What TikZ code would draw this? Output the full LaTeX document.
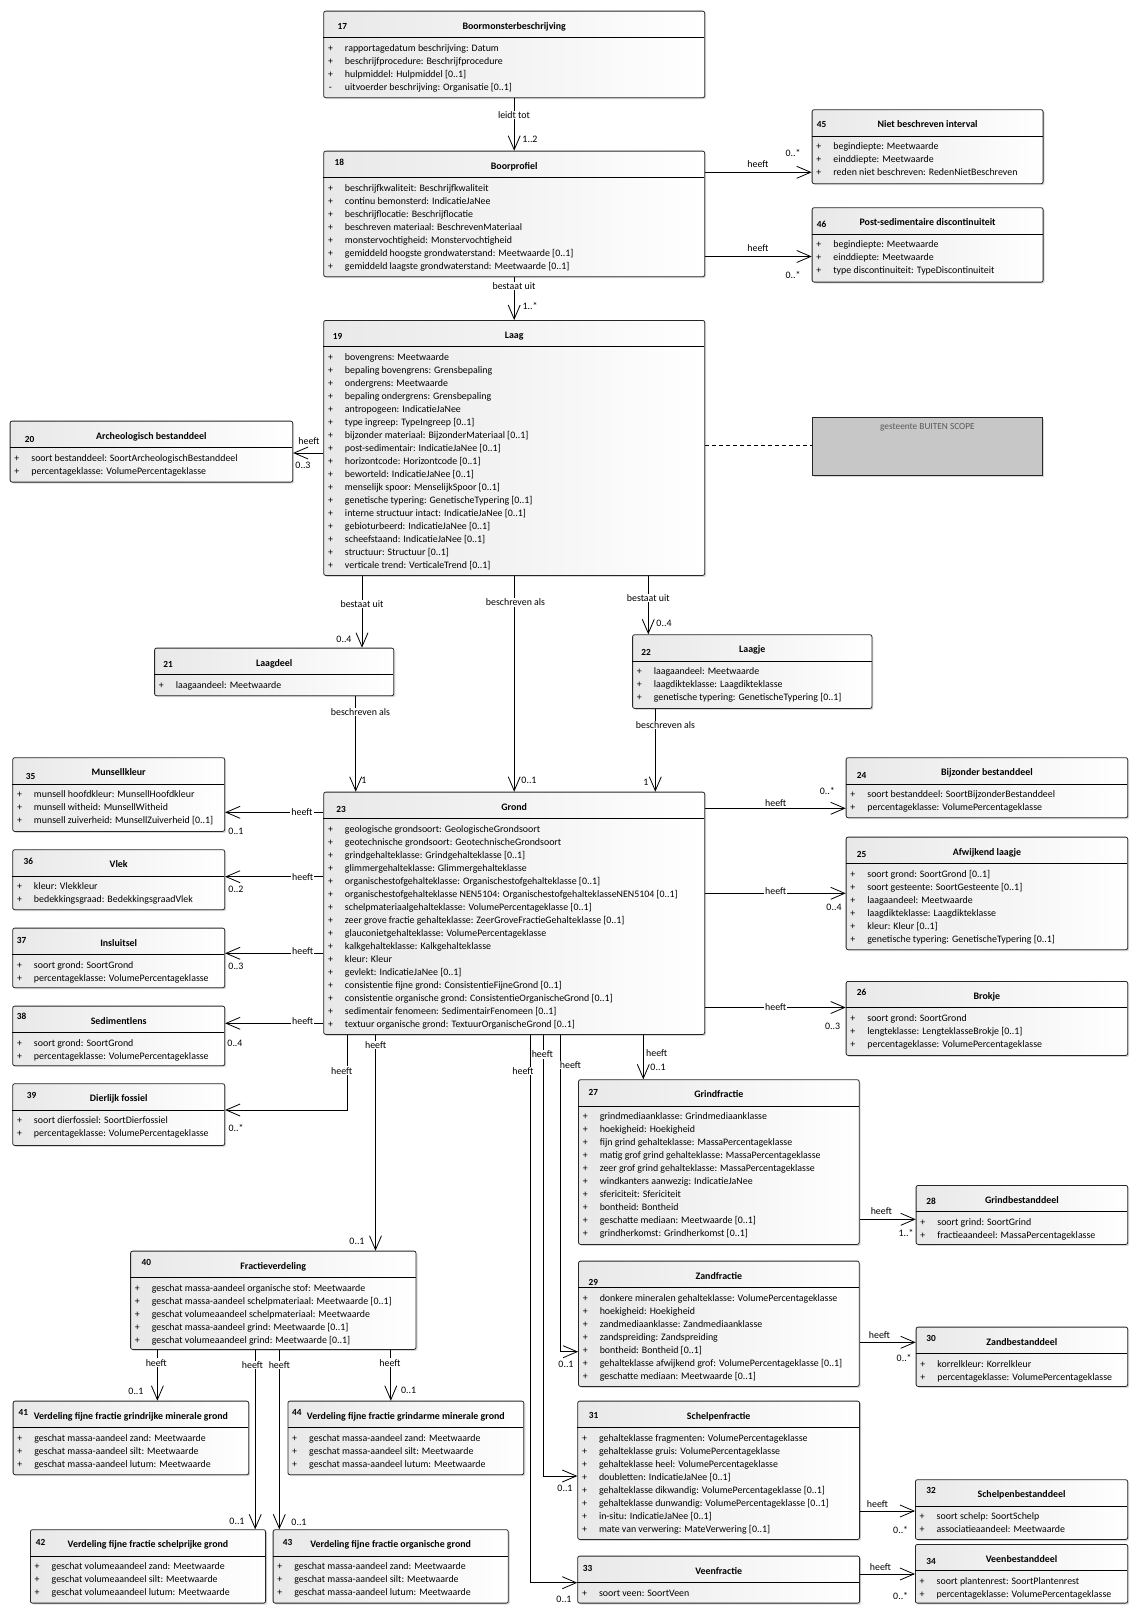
\documentclass[tikz,border=0pt]{standalone}
\usepackage{fontspec}
\setmainfont{Carlito}
\usepackage{tikz}
\usetikzlibrary{positioning,arrows.meta,calc,shadows}

% one attribute row: visibility sign, then the text
\newcommand{\vis}[1]{\rule{0pt}{8.5pt}\makebox[14pt]{#1}\hspace{7.5pt}}
% class box: name, left, top, width, height, number offset, number, title, attributes
\newcommand{\klasse}[9]{%
  \node[klasse, minimum width=#4pt, minimum height=#5pt, anchor=north west] (#1) at (#2,#3) {};
  \draw[line width=0.8pt] (#1.north west) ++(0,26.8) -- ++(#4,0);
  \node[nummer] (#1-nr) at ($(#1.north west)+(#6)$) {#7};
  \node[titel] (#1-titel) at ($(#1.north)+(0,18.5)$) {#8};
  \node[attrs] (#1-attr) at ($(#1.north west)+(0,31.8)$) {#9};
}

\begin{document}
\begin{tikzpicture}[
  x=1pt, y=-1pt,
  font=\fontsize{9.9}{13}\selectfont,
  klasse/.style={rectangle, draw=black!85, line width=0.8pt, rounded corners=2pt, left color=black!9, right color=white,
    drop shadow={shadow xshift=1.5pt, shadow yshift=-1.5pt, opacity=0.3}, inner sep=0pt},
  buiten/.style={rectangle, draw=black!85, line width=0.8pt, fill=black!22,
    drop shadow={shadow xshift=1.5pt, shadow yshift=-1.5pt, opacity=0.3}, inner sep=0pt},
  nummer/.style={font=\fontsize{9.3}{11}\selectfont\bfseries, inner sep=0pt},
  titel/.style={font=\fontsize{9.9}{12}\selectfont\bfseries, inner sep=0pt, anchor=base},
  attrs/.style={anchor=north west, align=left, inner sep=0pt},
  assoc/.style={-{Straight Barb[length=14pt,width=12pt]}, line width=0.8pt},
  lbl/.style={fill=white, inner sep=1pt},
  mult/.style={inner sep=0pt}
]
\fill[white] (0,0) rectangle (1138,1614);
\useasboundingbox (0,0) rectangle (1138,1614);

% boring description and profile
\klasse{boormonster}{323.3}{10.7}{381}{86.6}{19,16}{17}{Boormonsterbeschrijving}{%
\vis{+}rapportagedatum beschrijving: Datum\\
\vis{+}beschrijfprocedure: Beschrijfprocedure\\
\vis{+}hulpmiddel: Hulpmiddel [0..1]\\
\vis{-}uitvoerder beschrijving: Organisatie [0..1]}
\klasse{boorprofiel}{323.3}{150.7}{381}{125.6}{16,11.6}{18}{Boorprofiel}{%
\vis{+}beschrijfkwaliteit: Beschrijfkwaliteit\\
\vis{+}continu bemonsterd: IndicatieJaNee\\
\vis{+}beschrijflocatie: Beschrijflocatie\\
\vis{+}beschreven materiaal: BeschrevenMateriaal\\
\vis{+}monstervochtigheid: Monstervochtigheid\\
\vis{+}gemiddeld hoogste grondwaterstand: Meetwaarde [0..1]\\
\vis{+}gemiddeld laagste grondwaterstand: Meetwaarde [0..1]}
\klasse{interval}{811.7}{109.3}{231}{74}{10,15.5}{45}{Niet beschreven interval}{%
\vis{+}begindiepte: Meetwaarde\\
\vis{+}einddiepte: Meetwaarde\\
\vis{+}reden niet beschreven: RedenNietBeschreven}
\klasse{discontinuiteit}{811.7}{207.3}{231}{74.4}{10,17}{46}{Post-sedimentaire discontinuiteit}{%
\vis{+}begindiepte: Meetwaarde\\
\vis{+}einddiepte: Meetwaarde\\
\vis{+}type discontinuiteit: TypeDiscontinuiteit}

% layer
\klasse{laag}{323.3}{320}{381}{255}{14.4,16.7}{19}{Laag}{%
\vis{+}bovengrens: Meetwaarde\\
\vis{+}bepaling bovengrens: Grensbepaling\\
\vis{+}ondergrens: Meetwaarde\\
\vis{+}bepaling ondergrens: Grensbepaling\\
\vis{+}antropogeen: IndicatieJaNee\\
\vis{+}type ingreep: TypeIngreep [0..1]\\
\vis{+}bijzonder materiaal: BijzonderMateriaal [0..1]\\
\vis{+}post-sedimentair: IndicatieJaNee [0..1]\\
\vis{+}horizontcode: Horizontcode [0..1]\\
\vis{+}beworteld: IndicatieJaNee [0..1]\\
\vis{+}menselijk spoor: MenselijkSpoor [0..1]\\
\vis{+}genetische typering: GenetischeTypering [0..1]\\
\vis{+}interne structuur intact: IndicatieJaNee [0..1]\\
\vis{+}gebioturbeerd: IndicatieJaNee [0..1]\\
\vis{+}scheefstaand: IndicatieJaNee [0..1]\\
\vis{+}structuur: Structuur [0..1]\\
\vis{+}verticale trend: VerticaleTrend [0..1]}
\klasse{archeo}{9.7}{420.7}{282.6}{61}{20,18.3}{20}{Archeologisch bestanddeel}{%
\vis{+}soort bestanddeel: SoortArcheologischBestanddeel\\
\vis{+}percentageklasse: VolumePercentageklasse}
\node[buiten, minimum width=230pt, minimum height=58pt, anchor=north west] (gesteente) at (812,417) {};
\node[font=\fontsize{9.3}{11}\selectfont, text=black!65] (gesteente-tekst) at ($(gesteente.north)+(0,10)$) {gesteente BUITEN SCOPE};
\klasse{laagdeel}{154.2}{647.7}{239.2}{47.6}{14,16.6}{21}{Laagdeel}{%
\vis{+}laagaandeel: Meetwaarde}
\klasse{laagje}{632.2}{634.3}{239.3}{73.7}{13.8,18.4}{22}{Laagje}{%
\vis{+}laagaandeel: Meetwaarde\\
\vis{+}laagdikteklasse: Laagdikteklasse\\
\vis{+}genetische typering: GenetischeTypering [0..1]}

% soil
\klasse{grond}{323.3}{791.7}{381}{242.3}{17.7,17.3}{23}{Grond}{%
\vis{+}geologische grondsoort: GeologischeGrondsoort\\
\vis{+}geotechnische grondsoort: GeotechnischeGrondsoort\\
\vis{+}grindgehalteklasse: Grindgehalteklasse [0..1]\\
\vis{+}glimmergehalteklasse: Glimmergehalteklasse\\
\vis{+}organischestofgehalteklasse: Organischestofgehalteklasse [0..1]\\
\vis{+}organischestofgehalteklasse NEN5104: OrganischestofgehalteklasseNEN5104 [0..1]\\
\vis{+}schelpmateriaalgehalteklasse: VolumePercentageklasse [0..1]\\
\vis{+}zeer grove fractie gehalteklasse: ZeerGroveFractieGehalteklasse [0..1]\\
\vis{+}glauconietgehalteklasse: VolumePercentageklasse\\
\vis{+}kalkgehalteklasse: Kalkgehalteklasse\\
\vis{+}kleur: Kleur\\
\vis{+}gevlekt: IndicatieJaNee [0..1]\\
\vis{+}consistentie fijne grond: ConsistentieFijneGrond [0..1]\\
\vis{+}consistentie organische grond: ConsistentieOrganischeGrond [0..1]\\
\vis{+}sedimentair fenomeen: SedimentairFenomeen [0..1]\\
\vis{+}textuur organische grond: TextuurOrganischeGrond [0..1]}
\klasse{bijzonder}{845.7}{757.3}{281.6}{60}{16,17.7}{24}{Bijzonder bestanddeel}{%
\vis{+}soort bestanddeel: SoortBijzonderBestanddeel\\
\vis{+}percentageklasse: VolumePercentageklasse}
\klasse{afwijkend}{845.7}{836.7}{281.6}{112.6}{16,17.3}{25}{Afwijkend laagje}{%
\vis{+}soort grond: SoortGrond [0..1]\\
\vis{+}soort gesteente: SoortGesteente [0..1]\\
\vis{+}laagaandeel: Meetwaarde\\
\vis{+}laagdikteklasse: Laagdikteklasse\\
\vis{+}kleur: Kleur [0..1]\\
\vis{+}genetische typering: GenetischeTypering [0..1]}
\klasse{brokje}{845.7}{981}{281.6}{74}{16,11.7}{26}{Brokje}{%
\vis{+}soort grond: SoortGrond\\
\vis{+}lengteklasse: LengteklasseBrokje [0..1]\\
\vis{+}percentageklasse: VolumePercentageklasse}
\klasse{munsell}{12.3}{757.3}{212}{73.7}{18.4,19.4}{35}{Munsellkleur}{%
\vis{+}munsell hoofdkleur: MunsellHoofdkleur\\
\vis{+}munsell witheid: MunsellWitheid\\
\vis{+}munsell zuiverheid: MunsellZuiverheid [0..1]}
\klasse{vlek}{12.3}{849.3}{212}{60}{16,11.7}{36}{Vlek}{%
\vis{+}kleur: Vlekkleur\\
\vis{+}bedekkingsgraad: BedekkingsgraadVlek}
\klasse{insluitsel}{12.3}{927.7}{212}{59.6}{9.4,12.3}{37}{Insluitsel}{%
\vis{+}soort grond: SoortGrond\\
\vis{+}percentageklasse: VolumePercentageklasse}
\klasse{sedimentlens}{12.3}{1005.7}{212}{59.6}{9.4,11}{38}{Sedimentlens}{%
\vis{+}soort grond: SoortGrond\\
\vis{+}percentageklasse: VolumePercentageklasse}
\klasse{fossiel}{12.3}{1083.3}{212}{61.7}{19.4,11.7}{39}{Dierlijk fossiel}{%
\vis{+}soort dierfossiel: SoortDierfossiel\\
\vis{+}percentageklasse: VolumePercentageklasse}

% fractions
\klasse{grindfractie}{578.1}{1079.3}{280.7}{164.7}{15.3,13.4}{27}{Grindfractie}{%
\vis{+}grindmediaanklasse: Grindmediaanklasse\\
\vis{+}hoekigheid: Hoekigheid\\
\vis{+}fijn grind gehalteklasse: MassaPercentageklasse\\
\vis{+}matig grof grind gehalteklasse: MassaPercentageklasse\\
\vis{+}zeer grof grind gehalteklasse: MassaPercentageklasse\\
\vis{+}windkanters aanwezig: IndicatieJaNee\\
\vis{+}sfericiteit: Sfericiteit\\
\vis{+}bontheid: Bontheid\\
\vis{+}geschatte mediaan: Meetwaarde [0..1]\\
\vis{+}grindherkomst: Grindherkomst [0..1]}
\klasse{grindbestanddeel}{915.7}{1185}{211.6}{59}{15.3,16.7}{28}{Grindbestanddeel}{%
\vis{+}soort grind: SoortGrind\\
\vis{+}fractieaandeel: MassaPercentageklasse}
\klasse{zandfractie}{578.1}{1260.7}{280.7}{125.3}{15.3,21.6}{29}{Zandfractie}{%
\vis{+}donkere mineralen gehalteklasse: VolumePercentageklasse\\
\vis{+}hoekigheid: Hoekigheid\\
\vis{+}zandmediaanklasse: Zandmediaanklasse\\
\vis{+}zandspreiding: Zandspreiding\\
\vis{+}bontheid: Bontheid [0..1]\\
\vis{+}gehalteklasse afwijkend grof: VolumePercentageklasse [0..1]\\
\vis{+}geschatte mediaan: Meetwaarde [0..1]}
\klasse{zandbestanddeel}{915.7}{1326.7}{211.6}{59.3}{15.3,11.6}{30}{Zandbestanddeel}{%
\vis{+}korrelkleur: Korrelkleur\\
\vis{+}percentageklasse: VolumePercentageklasse}
\klasse{schelpenfractie}{577.3}{1400.7}{281.9}{138.3}{16.3,14.3}{31}{Schelpenfractie}{%
\vis{+}gehalteklasse fragmenten: VolumePercentageklasse\\
\vis{+}gehalteklasse gruis: VolumePercentageklasse\\
\vis{+}gehalteklasse heel: VolumePercentageklasse\\
\vis{+}doubletten: IndicatieJaNee [0..1]\\
\vis{+}gehalteklasse dikwandig: VolumePercentageklasse [0..1]\\
\vis{+}gehalteklasse dunwandig: VolumePercentageklasse [0..1]\\
\vis{+}in-situ: IndicatieJaNee [0..1]\\
\vis{+}mate van verwering: MateVerwering [0..1]}
\klasse{schelpenbestanddeel}{915}{1479.3}{212.3}{59.7}{16.2,11.4}{32}{Schelpenbestanddeel}{%
\vis{+}soort schelp: SoortSchelp\\
\vis{+}associatieaandeel: Meetwaarde}
\klasse{veenfractie}{577.3}{1555.7}{281.9}{47}{10.2,12.6}{33}{Veenfractie}{%
\vis{+}soort veen: SoortVeen}
\klasse{veenbestanddeel}{915}{1544}{212.3}{58.7}{16.2,17}{34}{Veenbestanddeel}{%
\vis{+}soort plantenrest: SoortPlantenrest\\
\vis{+}percentageklasse: VolumePercentageklasse}

% fraction distribution
\klasse{fractieverdeling}{130.2}{1250.7}{285.4}{98.3}{16.1,12}{40}{Fractieverdeling}{%
\vis{+}geschat massa-aandeel organische stof: Meetwaarde\\
\vis{+}geschat massa-aandeel schelpmateriaal: Meetwaarde [0..1]\\
\vis{+}geschat volumeaandeel schelpmateriaal: Meetwaarde\\
\vis{+}geschat massa-aandeel grind: Meetwaarde [0..1]\\
\vis{+}geschat volumeaandeel grind: Meetwaarde [0..1]}
\klasse{grindrijk}{12.7}{1400.7}{235.6}{73.6}{10.7,11.6}{41}{Verdeling fijne fractie grindrijke minerale grond}{%
\vis{+}geschat massa-aandeel zand: Meetwaarde\\
\vis{+}geschat massa-aandeel silt: Meetwaarde\\
\vis{+}geschat massa-aandeel lutum: Meetwaarde}
\klasse{grindarm}{287.5}{1400.7}{235.9}{73.6}{9.3,11.6}{44}{Verdeling fijne fractie grindarme minerale grond}{%
\vis{+}geschat massa-aandeel zand: Meetwaarde\\
\vis{+}geschat massa-aandeel silt: Meetwaarde\\
\vis{+}geschat massa-aandeel lutum: Meetwaarde}
\klasse{schelprijk}{30}{1529.3}{235.2}{73.4}{10.6,13}{42}{Verdeling fijne fractie schelprijke grond}{%
\vis{+}geschat volumeaandeel zand: Meetwaarde\\
\vis{+}geschat volumeaandeel silt: Meetwaarde\\
\vis{+}geschat volumeaandeel lutum: Meetwaarde}
\klasse{organisch}{272.7}{1529.3}{235.2}{73.4}{14.8,13}{43}{Verdeling fijne fractie organische grond}{%
\vis{+}geschat massa-aandeel zand: Meetwaarde\\
\vis{+}geschat massa-aandeel silt: Meetwaarde\\
\vis{+}geschat massa-aandeel lutum: Meetwaarde}

% associations
\draw[assoc] (boormonster.south) -- (boorprofiel.north)
  node[lbl] (r-boorprofiel) at (514,115) {leidt tot} node[mult] (m-boorprofiel) at (530,139) {1..2};
\draw[assoc] (boorprofiel.east |- 0,172.3) -- (interval.west |- 0,172.3)
  node[lbl] (r-interval) at (758,164) {heeft} node[mult] (m-interval) at (793,153) {0..*};
\draw[assoc] (boorprofiel.east |- 0,256.5) -- (discontinuiteit.west |- 0,256.5)
  node[lbl] (r-discontinuiteit) at (758,248.5) {heeft} node[mult] (m-discontinuiteit) at (793,275) {0..*};
\draw[assoc] (boorprofiel.south) -- (laag.north)
  node[lbl] (r-laag) at (514,286) {bestaat uit} node[mult] (m-laag) at (530,306) {1..*};
\draw[assoc] (laag.west |- 0,453) -- (archeo.east |- 0,453)
  node[lbl] (r-archeo) at (309,441) {heeft} node[mult] (m-archeo) at (303,465) {0..3};
\draw[line width=0.8pt, dash pattern=on 4pt off 3pt] (laag.east |- 0,445) -- (gesteente.west |- 0,445);
\draw[assoc] (laag.south -| 362,0) -- (laagdeel.north -| 362,0)
  node[lbl] (r-laagdeel) at (362,604) {bestaat uit} node[mult] (m-laagdeel) at (344,639.5) {0..4};
\draw[assoc] (laag.south) -- (grond.north)
  node[lbl] (r-grond) at (515.5,602.5) {beschreven als} node[mult] (m-grond) at (529,780) {0..1};
\draw[assoc] (laag.south -| 648.3,0) -- (laagje.north -| 648.3,0)
  node[lbl] (r-laagje) at (648.3,598) {bestaat uit} node[mult] (m-laagje) at (664,623) {0..4};
\draw[assoc] (laagdeel.south -| 355.7,0) -- (grond.north -| 355.7,0)
  node[lbl] (r-laagdeel-grond) at (360.5,712) {beschreven als} node[mult] (m-laagdeel-grond) at (364,780) {1};
\draw[assoc] (laagje.south -| 655.3,0) -- (grond.north -| 655.3,0)
  node[lbl] (r-laagje-grond) at (665.5,725) {beschreven als} node[mult] (m-laagje-grond) at (646,782) {1};

\draw[assoc] (grond.west |- 0,812.3) -- (munsell.east |- 0,812.3)
  node[lbl] (r-munsell) at (302,812.3) {heeft} node[mult] (m-munsell) at (236,831) {0..1};
\draw[assoc] (grond.west |- 0,876.7) -- (vlek.east |- 0,876.7)
  node[lbl] (r-vlek) at (302.7,876.7) {heeft} node[mult] (m-vlek) at (236,889) {0..2};
\draw[assoc] (grond.west |- 0,953.3) -- (insluitsel.east |- 0,953.3)
  node[lbl] (r-insluitsel) at (302.7,951) {heeft} node[mult] (m-insluitsel) at (236,966) {0..3};
\draw[assoc] (grond.west |- 0,1023.3) -- (sedimentlens.east |- 0,1023.3)
  node[lbl] (r-sedimentlens) at (302.7,1021) {heeft} node[mult] (m-sedimentlens) at (235,1043.3) {0..4};
\draw[assoc] (grond.south -| 347.7,0) |- (fossiel.east |- 0,1110)
  node[lbl] (r-fossiel) at (341.7,1070.7) {heeft} node[mult] (m-fossiel) at (236,1128.3) {0..*};
\draw[assoc] (grond.south -| 375.5,0) -- (fractieverdeling.north -| 375.5,0)
  node[lbl] (r-fractieverdeling) at (375.6,1045) {heeft} node[mult] (m-fractieverdeling) at (357,1241.7) {0..1};
\draw[assoc] (grond.east |- 0,808.3) -- (bijzonder.west |- 0,808.3)
  node[lbl] (r-bijzonder) at (775.7,803.5) {heeft} node[mult] (m-bijzonder) at (827.3,790.7) {0..*};
\draw[assoc] (grond.east |- 0,893.3) -- (afwijkend.west |- 0,893.3)
  node[lbl] (r-afwijkend) at (775.7,891) {heeft} node[mult] (m-afwijkend) at (834,907.7) {0..4};
\draw[assoc] (grond.east |- 0,1007.5) -- (brokje.west |- 0,1007.5)
  node[lbl] (r-brokje) at (775.7,1007.5) {heeft} node[mult] (m-brokje) at (832.7,1026.7) {0..3};
\draw[assoc] (grond.south -| 643.3,0) -- (grindfractie.north -| 643.3,0)
  node[lbl] (r-grindfractie) at (656.7,1052.7) {heeft} node[mult] (m-grindfractie) at (658,1067.3) {0..1};
\draw[assoc] (grond.south -| 560,0) |- (zandfractie.west |- 0,1351.7)
  node[lbl] (r-zandfractie) at (570.5,1065) {heeft} node[mult] (m-zandfractie) at (566,1364) {0..1};
\draw[assoc] (grond.south -| 543.5,0) |- (schelpenfractie.west |- 0,1476)
  node[lbl] (r-schelpenfractie) at (542.3,1054.5) {heeft} node[mult] (m-schelpenfractie) at (565,1488.3) {0..1};
\draw[assoc] (grond.south -| 530.5,0) |- (veenfractie.west |- 0,1582.7)
  node[lbl] (r-veenfractie) at (523,1071) {heeft} node[mult] (m-veenfractie) at (564,1599) {0..1};

\draw[assoc] (grindfractie.east |- 0,1219.3) -- (grindbestanddeel.west |- 0,1219.3)
  node[lbl] (r-grindbestanddeel) at (881.3,1211) {heeft} node[mult] (m-grindbestanddeel) at (906,1233.3) {1..*};
\draw[assoc] (zandfractie.east |- 0,1342.3) -- (zandbestanddeel.west |- 0,1342.3)
  node[lbl] (r-zandbestanddeel) at (879.4,1335) {heeft} node[mult] (m-zandbestanddeel) at (904.2,1358.3) {0..*};
\draw[assoc] (schelpenfractie.east |- 0,1511) -- (schelpenbestanddeel.west |- 0,1511)
  node[lbl] (r-schelpenbestanddeel) at (877.5,1504) {heeft} node[mult] (m-schelpenbestanddeel) at (900.7,1530) {0..*};
\draw[assoc] (veenfractie.east |- 0,1574) -- (veenbestanddeel.west |- 0,1574)
  node[lbl] (r-veenbestanddeel) at (880.4,1566.7) {heeft} node[mult] (m-veenbestanddeel) at (900.7,1596) {0..*};

\draw[assoc] (fractieverdeling.south -| 157.4,0) -- (grindrijk.north -| 157.4,0)
  node[lbl] (r-grindrijk) at (156.3,1362.7) {heeft} node[mult] (m-grindrijk) at (136,1391) {0..1};
\draw[assoc] (fractieverdeling.south -| 255.2,0) -- (schelprijk.north -| 255.2,0)
  node[lbl] (r-schelprijk) at (252.4,1365) {heeft} node[mult] (m-schelprijk) at (237,1521) {0..1};
\draw[assoc] (fractieverdeling.south -| 279.3,0) -- (organisch.north -| 279.3,0)
  node[lbl] (r-organisch) at (279.3,1365) {heeft} node[mult] (m-organisch) at (299,1522) {0..1};
\draw[assoc] (fractieverdeling.south -| 390.8,0) -- (grindarm.north -| 390.8,0)
  node[lbl] (r-grindarm) at (390,1362.7) {heeft} node[mult] (m-grindarm) at (408.7,1390) {0..1};
\end{tikzpicture}
\end{document}
